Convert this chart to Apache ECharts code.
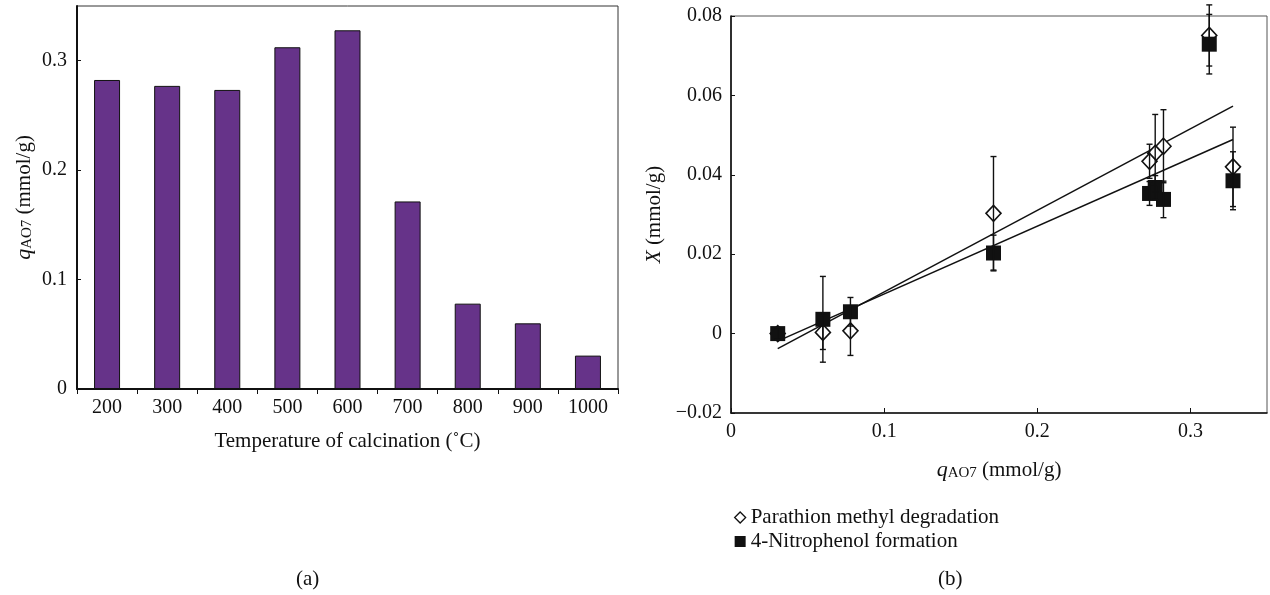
<!DOCTYPE html>
<html>
<head>
<meta charset="utf-8">
<script src="https://cdn.jsdelivr.net/npm/echarts@6/dist/echarts.min.js"></script>
<style>
html,body{margin:0;padding:0;background:#fff;}
#chart{width:1270px;height:595px;}
</style>
</head>
<body>
<div id="chart"></div>
<script>
// ---- data ----
var temperatures = ['200', '300', '400', '500', '600', '700', '800', '900', '1000'];
var qAO7 = [0.2824, 0.2770, 0.2733, 0.3123, 0.3278, 0.1714, 0.0780, 0.0600, 0.0305];
// right panel, same order as temperatures (x = qAO7)
var pmDegradation = [0.0472, 0.0454, 0.0434, 0.0751, 0.0420, 0.0303, 0.0007, 0.0003, 0.0000];
var pmError       = [0.0092, 0.0098, 0.0043, 0.0077, 0.0100, 0.0143, 0.0062, 0.0043, 0.0015];
var npFormation   = [0.0338, 0.0368, 0.0353, 0.0729, 0.0385, 0.0203, 0.0055, 0.0036, 0.0000];
var npError       = [0.0046, 0.0030, 0.0030, 0.0075, 0.0073, 0.0045, 0.0036, 0.0108, 0.0015];
// linear fits: endpoints
var fitX  = [0.0305, 0.3278];
var pmFit = [-0.0038, 0.0573];
var npFit = [-0.0019, 0.0489];
var leftTicks = [0, 0.1, 0.2, 0.3];
var rightYTicks = [-0.02, 0, 0.02, 0.04, 0.06, 0.08];
var rightXTicks = [0, 0.1, 0.2, 0.3];

var FONT = '"Liberation Serif", "DejaVu Serif", serif';
var chart = echarts.init(document.getElementById('chart'), null, {renderer: 'canvas'});

function fmt(v, digits) {
  var r = Math.round(v * 1000) / 1000;
  if (Math.abs(r) < 1e-9) return '0';
  var s = Math.abs(r).toFixed(digits);
  return (r < 0 ? '\u2212' : '') + s;
}

function errorBars(params, api) {
  var x = api.value(0), y = api.value(1), e = api.value(2);
  var top = api.coord([x, y + e]);
  var bot = api.coord([x, y - e]);
  var cw = 3;
  var st = {stroke: '#111', lineWidth: 1.4};
  return {
    type: 'group',
    children: [
      {type: 'line', shape: {x1: top[0], y1: top[1], x2: bot[0], y2: bot[1]}, style: st},
      {type: 'line', shape: {x1: top[0] - cw, y1: top[1], x2: top[0] + cw, y2: top[1]}, style: st},
      {type: 'line', shape: {x1: bot[0] - cw, y1: bot[1], x2: bot[0] + cw, y2: bot[1]}, style: st}
    ]
  };
}

var richQ = {
  q: {fontFamily: FONT, fontStyle: 'italic', fontSize: 22, color: '#111'},
  s: {fontFamily: FONT, fontSize: 15, color: '#111', verticalAlign: 'bottom', padding: [6, 0, 0, 0]},
  t: {fontFamily: FONT, fontSize: 21, color: '#111'},
  x: {fontFamily: FONT, fontStyle: 'italic', fontSize: 21, color: '#111'}
};

var option = {
  backgroundColor: '#fff',
  animation: false,
  textStyle: {fontFamily: FONT, color: '#111'},
  grid: [
    {left: 77, top: 6, width: 541, height: 383, show: true, borderColor: '#333', borderWidth: 1, containLabel: false},
    {left: 731, top: 16, width: 536, height: 397, show: true, borderColor: '#555', borderWidth: 1, containLabel: false}
  ],
  legend: {
    orient: 'vertical',
    left: 729,
    top: 502,
    itemWidth: 11,
    itemHeight: 11,
    itemGap: 3,
    textStyle: {fontFamily: FONT, fontSize: 21, color: '#111'},
    data: [
      {name: 'Parathion methyl degradation', icon: 'diamond', itemStyle: {color: '#fff', borderColor: '#111', borderWidth: 1.3}},
      {name: '4-Nitrophenol formation', icon: 'rect', itemStyle: {color: '#111'}}
    ]
  },
  xAxis: [
    {
      gridIndex: 0, type: 'category', data: temperatures, boundaryGap: true,
      axisLine: {onZero: false, lineStyle: {color: '#111', width: 2}},
      axisTick: {show: true, inside: false, length: 5, lineStyle: {color: '#111', width: 1}},
      axisLabel: {fontFamily: FONT, fontSize: 20, color: '#111', margin: 9},
      name: 'Temperature of calcination (\u02DAC)', nameLocation: 'middle', nameGap: 42,
      nameTextStyle: {fontFamily: FONT, fontSize: 21, color: '#111'},
      splitLine: {show: false}
    },
    {
      gridIndex: 1, type: 'value', min: 0, max: 0.35, interval: 0.1,
      axisLine: {onZero: false, lineStyle: {color: '#111', width: 1.6}},
      axisTick: {show: true, inside: true, length: 5, lineStyle: {color: '#111', width: 1}},
      axisLabel: {fontFamily: FONT, fontSize: 20, color: '#111', margin: 9, showMaxLabel: false,
        formatter: function (v) { return fmt(v, 1); }},
      name: '{q|q}{s|AO7}{t| (mmol/g)}', nameLocation: 'middle', nameGap: 46,
      nameTextStyle: {rich: richQ},
      splitLine: {show: false}
    }
  ],
  yAxis: [
    {
      gridIndex: 0, type: 'value', min: 0, max: 0.35, interval: 0.1,
      axisLine: {show: true, onZero: false, lineStyle: {color: '#111', width: 2}},
      axisTick: {show: true, inside: true, length: 4, lineStyle: {color: '#111', width: 1}},
      axisLabel: {fontFamily: FONT, fontSize: 20, color: '#111', margin: 10, showMaxLabel: false,
        formatter: function (v) { return fmt(v, 1); }},
      name: '{q|q}{s|AO7}{t| (mmol/g)}', nameLocation: 'middle', nameGap: 42, nameRotate: 90,
      nameTextStyle: {rich: richQ},
      splitLine: {show: false}
    },
    {
      gridIndex: 1, type: 'value', min: -0.02, max: 0.08, interval: 0.02,
      axisLine: {show: true, onZero: false, lineStyle: {color: '#111', width: 1.6}},
      axisTick: {show: true, inside: true, length: 4, lineStyle: {color: '#111', width: 1}},
      axisLabel: {fontFamily: FONT, fontSize: 20, color: '#111', margin: 9,
        formatter: function (v) { return fmt(v, 2); }},
      name: '{x|X}{t| (mmol/g)}', nameLocation: 'middle', nameGap: 66, nameRotate: 90,
      nameTextStyle: {rich: richQ},
      splitLine: {show: false}
    }
  ],
  series: [
    {
      type: 'bar', xAxisIndex: 0, yAxisIndex: 0, data: qAO7, barWidth: 26,
      itemStyle: {color: '#663389', borderColor: '#111', borderWidth: 1}
    },
    {
      type: 'line', xAxisIndex: 1, yAxisIndex: 1, symbol: 'none', silent: true,
      data: fitX.map(function (x, i) { return [x, pmFit[i]]; }),
      lineStyle: {color: '#111', width: 1.5}, z: 2
    },
    {
      type: 'line', xAxisIndex: 1, yAxisIndex: 1, symbol: 'none', silent: true,
      data: fitX.map(function (x, i) { return [x, npFit[i]]; }),
      lineStyle: {color: '#111', width: 1.5}, z: 2
    },
    {
      name: 'Parathion methyl degradation', type: 'scatter', xAxisIndex: 1, yAxisIndex: 1,
      symbol: 'diamond', symbolSize: [15, 16],
      data: qAO7.map(function (x, i) { return [x, pmDegradation[i]]; }),
      itemStyle: {color: '#fff', borderColor: '#111', borderWidth: 1.6, opacity: 1}, z: 3
    },
    {
      name: '4-Nitrophenol formation', type: 'scatter', xAxisIndex: 1, yAxisIndex: 1,
      symbol: 'rect', symbolSize: 15,
      data: qAO7.map(function (x, i) { return [x, npFormation[i]]; }),
      itemStyle: {color: '#111', opacity: 1}, z: 4
    },
    {
      type: 'custom', xAxisIndex: 1, yAxisIndex: 1, renderItem: errorBars, silent: true, z: 5,
      data: qAO7.map(function (x, i) { return [x, pmDegradation[i], pmError[i]]; })
    },
    {
      type: 'custom', xAxisIndex: 1, yAxisIndex: 1, renderItem: errorBars, silent: true, z: 5,
      data: qAO7.map(function (x, i) { return [x, npFormation[i], npError[i]]; })
    }
  ],
  graphic: [
    {type: 'text', left: 296, top: 569, style: {text: '(a)', font: '21px ' + FONT, fill: '#111'}},
    {type: 'text', left: 938, top: 569, style: {text: '(b)', font: '21px ' + FONT, fill: '#111'}}
  ]
};
chart.setOption(option);
</script>
</body>
</html>
